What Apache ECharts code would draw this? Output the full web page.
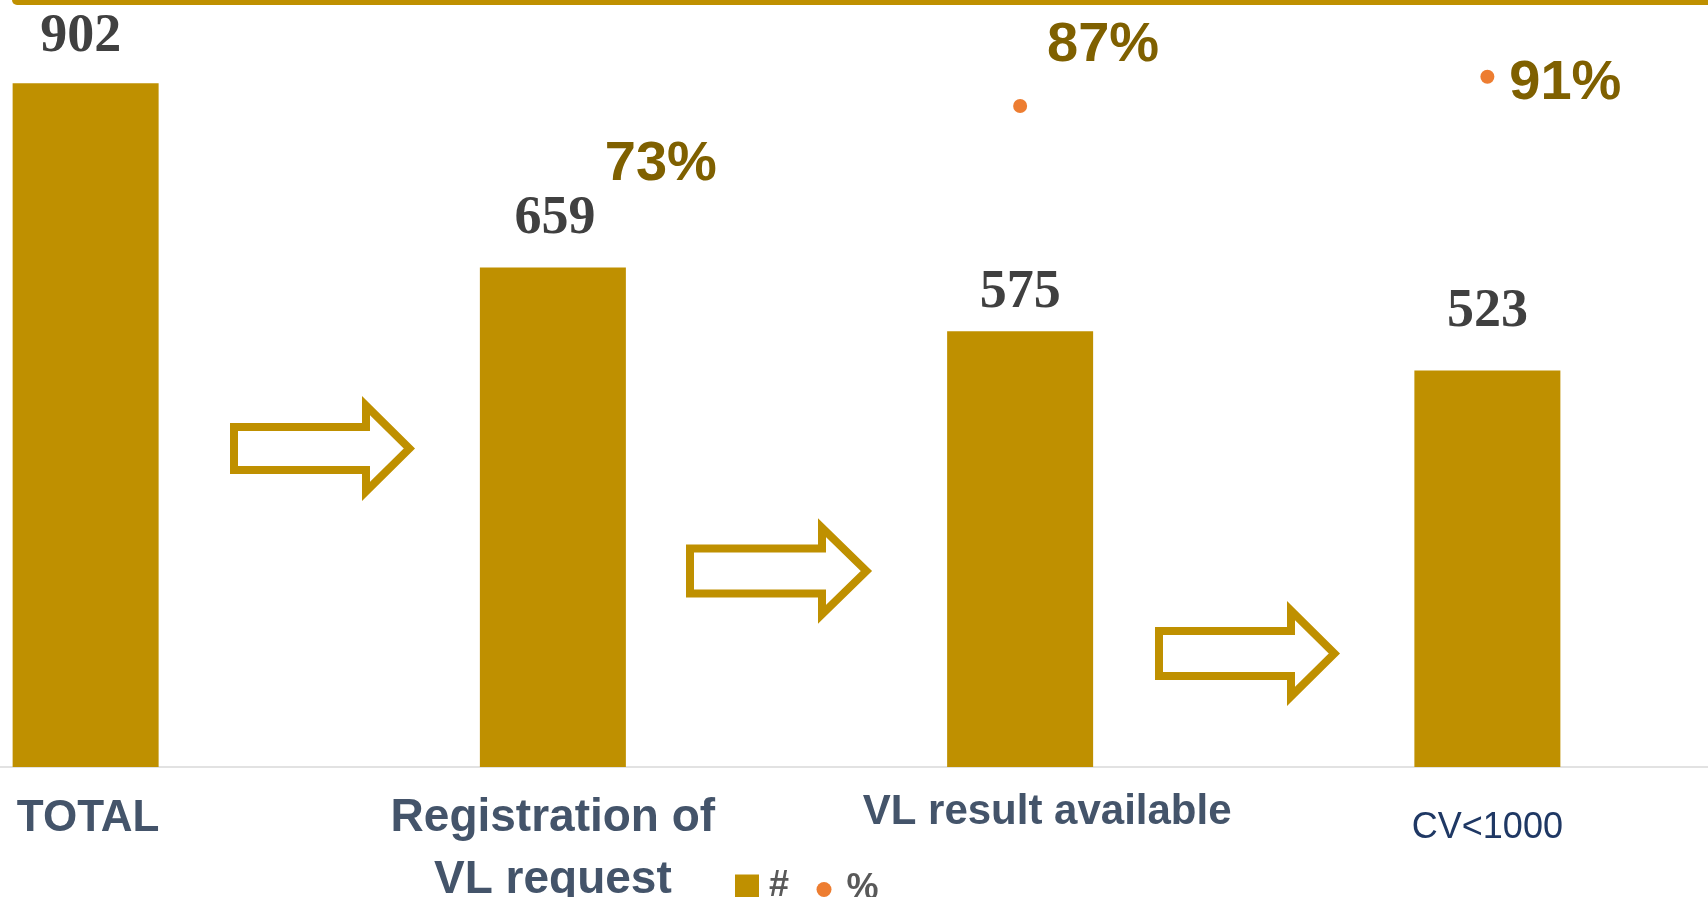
<!DOCTYPE html>
<html>
<head>
<meta charset="utf-8">
<script src="https://cdn.jsdelivr.net/npm/echarts@6/dist/echarts.min.js"></script>
<style>
  html, body { margin: 0; padding: 0; background: #fff; }
  #chart { width: 1708px; height: 897px; }
</style>
</head>
<body>
<div id="chart"></div>
<script>
// values
const categories = ["TOTAL", "Registration of\nVL request", "VL result available", "CV<1000"];
const counts = [902, 659, 575, 523];
const shares = [null, 73, 87, 91];

// label nudges (pixels), the labels in the original were placed by hand
const countLabelOffsets = [[-5, -19], [2, -21], [0, -11], [0, -32]];
const shareLabelOffsets = [null, [108, -44], [83, -60], [78, 7]];
const catKeys = ["t", "r", "v", "c"];

const GOLD = "#BF9000";

// hollow block arrow as a polygon, bbox outer edges
function arrow(L, T, W, H, bodyH, headL, sw) {
  const h = sw / 2;
  const R = L + W, B = T + H, mid = T + H / 2;
  const bt = mid - bodyH / 2, bb = mid + bodyH / 2, N = R - headL;
  const m = h * (1 + Math.SQRT2);
  return {
    type: "polygon",
    z: 10,
    shape: {
      points: [
        [L + h, bt + h], [N + h, bt + h], [N + h, T + m],
        [R - h * Math.SQRT2, mid],
        [N + h, B - m], [N + h, bb - h], [L + h, bb - h]
      ]
    },
    style: { fill: "#fff", stroke: GOLD, lineWidth: sw, lineJoin: "miter" }
  };
}

const chart = echarts.init(document.getElementById("chart"));

const option = {
  animation: false,
  grid: { left: -148, right: -13, top: 9, bottom: 130, outerBoundsMode: "none", containLabel: false },
  legend: [
    {
      data: [{ name: "#", icon: "rect" }],
      left: 735, top: 868.5, padding: 0,
      itemWidth: 24, itemHeight: 24,
      textStyle: { fontFamily: "Liberation Sans", fontWeight: "bold", fontSize: 36, color: "#595959", padding: [0, 0, 0, 5] }
    },
    {
      data: [{ name: "%", icon: "circle" }],
      left: 816.5, top: 871.5, padding: 0,
      itemWidth: 15, itemHeight: 15,
      textStyle: { fontFamily: "Liberation Sans", fontWeight: "bold", fontSize: 36, color: "#595959", padding: [0, 0, 0, 10] }
    }
  ],
  xAxis: {
    type: "category",
    data: categories,
    axisTick: { show: false },
    axisLine: { lineStyle: { color: "#D9D9D9", width: 1.5 } },
    axisLabel: {
      interval: 0,
      margin: 20,
      formatter: function (value, idx) {
        const k = catKeys[idx];
        return value.split("\n").map(s => "{" + k + "|" + s + "}").join("\n");
      },
      rich: {
        t: { fontFamily: "Liberation Sans", fontWeight: "bold", fontSize: 44, color: "#44546A", lineHeight: 64, padding: [0, 0, 0, 5] },
        r: { fontFamily: "Liberation Sans", fontWeight: "bold", fontSize: 46, color: "#44546A", lineHeight: 62 },
        v: { fontFamily: "Liberation Sans", fontWeight: "bold", fontSize: 42, color: "#44546A", lineHeight: 50, padding: [0, 0, 0, 54] },
        c: { fontFamily: "Liberation Sans", fontSize: 36, color: "#1F3864", lineHeight: 83 }
      }
    }
  },
  yAxis: [
    { type: "value", min: 0, max: 1000, show: false, splitLine: { show: false } },
    { type: "value", min: -3.24, max: 100.24, show: false, splitLine: { show: false } }
  ],
  series: [
    {
      name: "#",
      type: "bar",
      z: 3,
      barWidth: 146,
      itemStyle: { color: GOLD },
      label: {
        show: true,
        position: "top",
        distance: 0,
        fontFamily: "Liberation Serif",
        fontWeight: "bold",
        fontSize: 54,
        color: "#404040",
        backgroundColor: "#fff",
        padding: 0
      },
      data: counts.map((v, i) => ({ value: v, label: { offset: countLabelOffsets[i] } }))
    },
    {
      name: "%",
      type: "scatter",
      z: 2,
      yAxisIndex: 1,
      symbolSize: 14,
      itemStyle: { color: "#ED7D31", opacity: 1 },
      label: {
        show: true,
        position: "inside",
        formatter: "{c}%",
        fontFamily: "Liberation Sans",
        fontWeight: "bold",
        fontSize: 56,
        color: "#7F6000"
      },
      data: shares.map((v, i) => v == null ? null : ({ value: v, label: { offset: shareLabelOffsets[i] } }))
    }
  ],
  graphic: [
    { type: "rect", z: 10, shape: { x: 12, y: -6, width: 1720, height: 11, r: 5 }, style: { fill: GOLD } },
    arrow(230, 396, 185, 105, 51, 53, 8),
    arrow(686, 518, 186, 106, 53, 54, 8),
    arrow(1155, 601, 185, 105, 53, 53, 8)
  ]
};

chart.setOption(option);
</script>
</body>
</html>
